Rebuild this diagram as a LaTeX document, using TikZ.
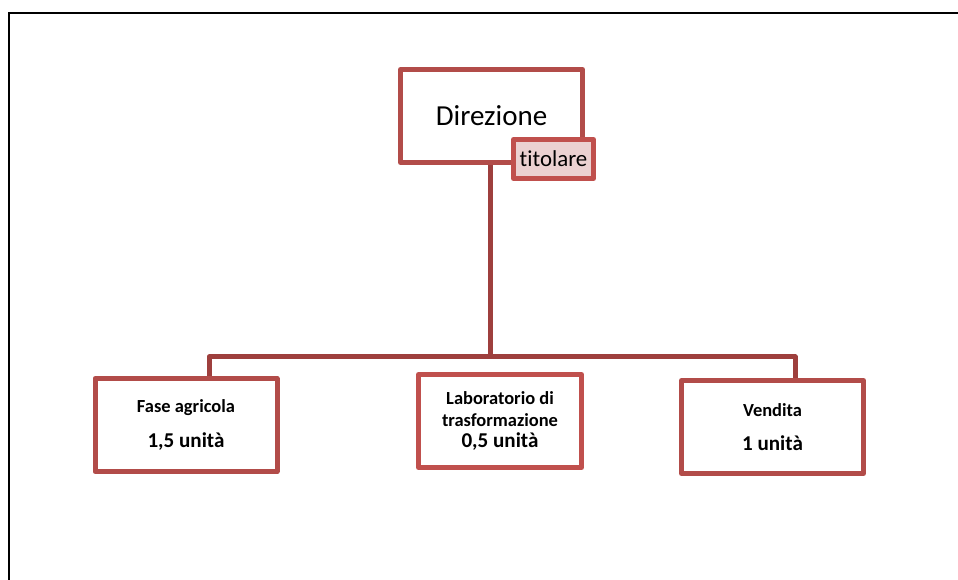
\documentclass[tikz,border=0pt]{standalone}
\usepackage{fontspec}
\setmainfont{Carlito}[Ligatures=NoCommon]
\definecolor{boxred}{HTML}{B24C49}
\definecolor{lightred}{HTML}{C0504D}
\definecolor{linkred}{HTML}{9E3F3D}
\definecolor{tagfill}{HTML}{EBD1D1}
\begin{document}
\begin{tikzpicture}[box/.style={draw=boxred, line width=0.1cm, line join=round, fill=white, minimum width=3.64cm, minimum height=1.86cm, inner sep=0pt, align=center, font=\bfseries\fontsize{10.5}{12.6}\selectfont},
	link/.style={draw=linkred, line width=0.1cm, line join=round}]

\useasboundingbox (0,0) rectangle (19.16,11.6);
\draw [line width=1.6pt] (0.18,0) -- (0.18,11.34) -- (19.16,11.34);


\node [box, font=\fontsize{16.5}{19}\selectfont] (dir) at (9.83,9.28) {Direzione};
\node [box, draw=lightred, fill=tagfill, minimum width=1.6cm, minimum height=0.78cm, font=\fontsize{13}{15}\selectfont] (tag) at (11.07,8.42) {titolare};

\coordinate (barL) at (4.18,4.46);
\coordinate (barR) at (15.9,4.46);

\node [box] (fase) at (3.72,3.10) {Fase agricola\\[7pt]{\fontsize{12}{14}\selectfont 1,5 unità}};
\node [box, draw=lightred, minimum width=3.26cm] (lab) at (10.0,3.18) {Laboratorio di\\trasformazione\\[-1pt]{\fontsize{12}{14}\selectfont 0,5 unità}};
\node [box] (vend) at (15.45,3.06) {Vendita\\[7pt]{\fontsize{12}{14}\selectfont 1 unità}};

\draw [link] (dir.south -| 9.8,0) -- (barL -| 9.8,0);
\draw [link] (fase.north -| barL) -- (barL) -- (barR) -- (vend.north -| barR);

\end{tikzpicture}
\end{document}
